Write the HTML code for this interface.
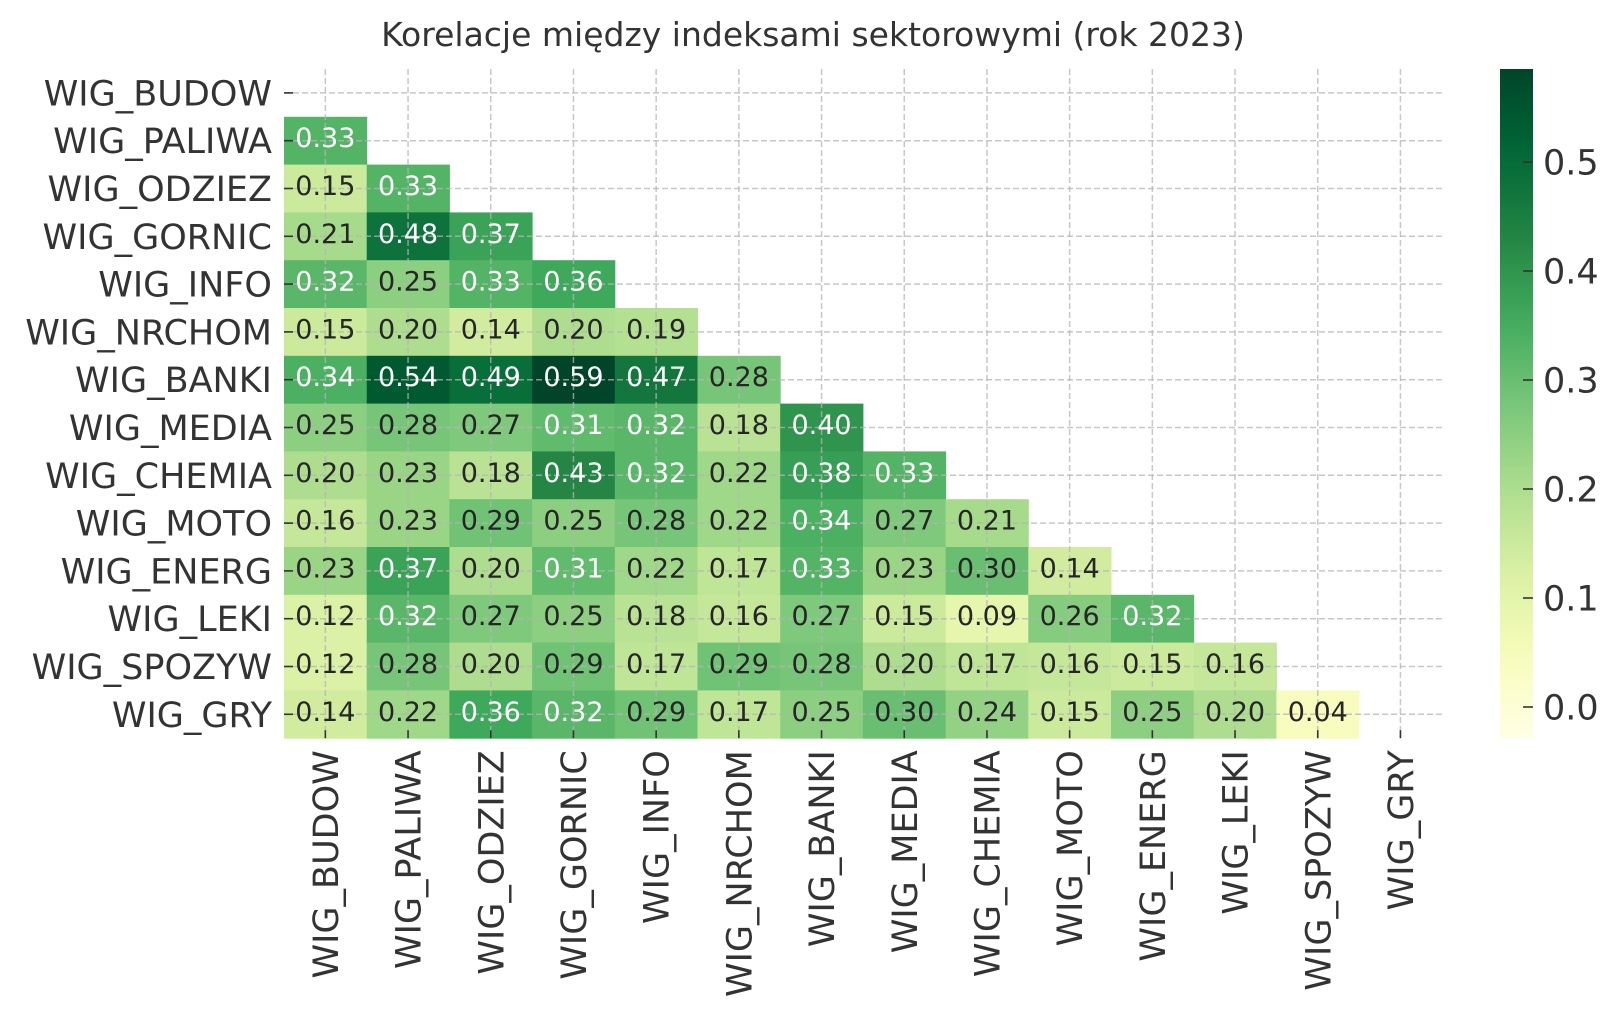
<!DOCTYPE html>
<html><head><meta charset="utf-8"><style>
html,body{margin:0;padding:0;background:#fff;}
svg{display:block;font-family:"DejaVu Sans","Liberation Sans",sans-serif;}
</style></head><body>
<svg id="s" width="1620" height="1023" xmlns="http://www.w3.org/2000/svg"></svg>
<script>
const names=["WIG_BUDOW","WIG_PALIWA","WIG_ODZIEZ","WIG_GORNIC","WIG_INFO","WIG_NRCHOM","WIG_BANKI","WIG_MEDIA","WIG_CHEMIA","WIG_MOTO","WIG_ENERG","WIG_LEKI","WIG_SPOZYW","WIG_GRY"];
const d=[[],[.33],[.15,.33],[.21,.48,.37],[.32,.25,.33,.36],[.15,.20,.14,.20,.19],[.34,.54,.49,.59,.47,.28],[.25,.28,.27,.31,.32,.18,.40],[.20,.23,.18,.43,.32,.22,.38,.33],[.16,.23,.29,.25,.28,.22,.34,.27,.21],[.23,.37,.20,.31,.22,.17,.33,.23,.30,.14],[.12,.32,.27,.25,.18,.16,.27,.15,.09,.26,.32],[.12,.28,.20,.29,.17,.29,.28,.20,.17,.16,.15,.16],[.14,.22,.36,.32,.29,.17,.25,.30,.24,.15,.25,.20,.04]];
const stops=["#ffffe5","#f7fcb9","#d9f0a3","#addd8e","#78c679","#41ab5d","#238443","#006837","#004529"].map(h=>[1,3,5].map(i=>parseInt(h.substr(i,2),16)));
const vmin=-0.028,vmax=0.585;
function col(v){let t=(v-vmin)/(vmax-vmin);t=Math.max(0,Math.min(1,t))*8;let i=Math.min(7,Math.floor(t)),f=t-i;const c=stops[i].map((a,k)=>Math.round(a+(stops[i+1][k]-a)*f));return c;}
function lum(c){const l=c.map(x=>{x/=255;return x<=0.03928?x/12.92:Math.pow((x+0.055)/1.055,2.4)});return .2126*l[0]+.7152*l[1]+.0722*l[2];}
let s='';
const X0=284,Y0=69,W=82.7,H=47.8,N=14;
s+=`<text x="813" y="46" font-size="33" fill="#333" text-anchor="middle">Korelacje między indeksami sektorowymi (rok 2023)</text>`;
for(let r=1;r<N;r++)for(let c=0;c<r;c++){const v=d[r][c],cl=col(v);const x=X0+W*c,y=Y0+H*r;
s+=`<rect x="${x}" y="${y}" width="${W+0.5}" height="${H+0.5}" fill="rgb(${cl})"/>`;}
for(let i=0;i<N;i++){const cx=X0+W*(i+.5),cy=Y0+H*(i+.5);
s+=`<line x1="${cx}" y1="${Y0}" x2="${cx}" y2="${Y0+H*N}" stroke="rgb(180,180,180)" stroke-opacity="0.75" stroke-width="1.5" stroke-dasharray="6,3"/>`;
s+=`<line x1="${X0}" y1="${cy}" x2="${X0+W*N}" y2="${cy}" stroke="rgb(180,180,180)" stroke-opacity="0.75" stroke-width="1.5" stroke-dasharray="6,3"/>`;}
for(let r=1;r<N;r++)for(let c=0;c<r;c++){const v=d[r][c],cl=col(v);const x=X0+W*c,y=Y0+H*r;
const tc=lum(cl)>0.408?"#262626":"#fff";
s+=`<text x="${x+W/2}" y="${y+H/2+6.5}" font-size="27" fill="${tc}" text-anchor="middle">${v.toFixed(2)}</text>`;}
for(let i=0;i<N;i++){const cx=X0+W*(i+.5),cy=Y0+H*(i+.5);
s+=`<line x1="${X0}" y1="${cy}" x2="${X0+9}" y2="${cy}" stroke="#333" stroke-width="1.6"/>`;
s+=`<text x="272" y="${cy+12.5}" font-size="35" fill="#333" text-anchor="end">${names[i]}</text>`;
s+=`<line x1="${cx}" y1="${Y0+H*N-8}" x2="${cx}" y2="${Y0+H*N}" stroke="#333" stroke-width="1.6"/>`;
s+=`<text transform="translate(${cx+12.5},${Y0+H*N+12}) rotate(-90)" font-size="35" fill="#333" text-anchor="end">${names[i]}</text>`;}
const cbx=1500,cbw=33,cbt=69,cbb=738;
s+=`<defs><linearGradient id="g" x1="0" y1="1" x2="0" y2="0">`;
for(let k=0;k<=20;k++){const v=vmin+(vmax-vmin)*k/20;s+=`<stop offset="${k/20}" stop-color="rgb(${col(v)})"/>`;}
s+=`</linearGradient></defs><rect x="${cbx}" y="${cbt}" width="${cbw}" height="${cbb-cbt}" fill="url(#g)"/>`;
for(let k=0;k<=5;k++){const v=k/10;const y=707-v*1090;
s+=`<line x1="${cbx+cbw-10}" y1="${y}" x2="${cbx+cbw}" y2="${y}" stroke="#333" stroke-width="1.6"/>`;
s+=`<text x="1543" y="${y+12.5}" font-size="35" fill="#333">${v.toFixed(1)}</text>`;}
document.getElementById('s').innerHTML=s;
</script>
</body></html>
